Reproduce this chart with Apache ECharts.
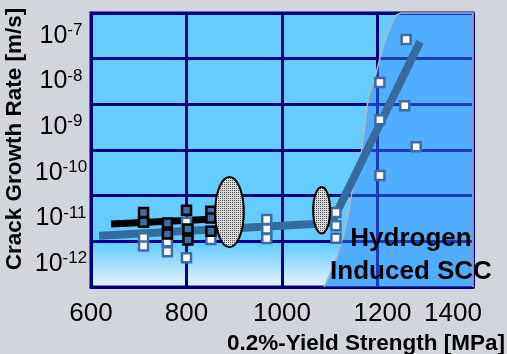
<!DOCTYPE html>
<html><head><meta charset="utf-8">
<script src="https://cdn.jsdelivr.net/npm/echarts@6/dist/echarts.min.js"></script>
<style>html,body{margin:0;padding:0;background:#d3d5dc;}#c{width:507px;height:354px;}</style>
</head><body><div id="c"></div>
<script>
// ---- data (x: 0.2% yield strength MPa, y: log10 of crack growth rate m/s) ----
const xTicks = [600, 800, 1000, 1200, 1400];
const yTickExps = [-12, -11, -10, -9, -8, -7];
const darkX = [710, 710, 760, 760, 800, 803, 803, 851, 851, 851];
const darkY = [-10.87, -11.08, -11.10, -11.34, -10.82, -11.23, -11.47, -10.84, -10.99, -11.28];
const whiteX = [710, 710, 760, 760, 800, 803, 800, 851, 968, 968, 968, 1113, 1113, 1113, 1260, 1205, 1257, 1205, 1281, 1205];
const whiteY = [-11.42, -11.60, -11.51, -11.73, -11.08, -11.40, -11.86, -11.46, -11.02, -11.23, -11.44, -10.87, -11.16, -11.43, -7.08, -8.02, -8.53, -8.84, -9.43, -10.06];
const blackLineX = [642, 860];
const blackLineY = [-11.12, -11.01];
const blueLineX = [617, 1104, 1289];
const blueLineY = [-11.38, -11.10, -7.13];
// ellipses: centre x, centre y, half width (MPa), half height (decades)
const ellipseCX = [890, 1083];
const ellipseCY = [-10.86, -10.82];
const ellipseRX = [30, 17.8];
const ellipseRY = [0.77, 0.51];
// boundary of the hydrogen-induced SCC region
const regionX = [1088, 1104, 1115, 1128, 1139, 1146, 1156, 1167, 1174, 1181, 1195, 1205, 1216, 1233, 1240, 1249];
const regionY = [-12.5, -12.13, -11.84, -11.40, -10.89, -10.45, -9.94, -9.50, -8.91, -8.34, -7.90, -7.49, -7.09, -6.65, -6.54, -6.5];
const xMin = 600, xMax = 1400, yMin = -12.5, yMax = -6.5;
const yName = 'Crack Growth Rate [m/s]';
const xName = '0.2%-Yield Strength [MPa]';

const FONT = "'Liberation Sans', Arial, sans-serif";
const pat = document.createElement('canvas');
pat.width = 4; pat.height = 4;
(function(){const g = pat.getContext('2d'); g.fillStyle = '#d8d8d8'; g.fillRect(0,0,4,4);
 g.fillStyle = '#555'; g.fillRect(0,0,1,1); g.fillRect(2,2,1,1); g.fillRect(2,0,1,1); g.fillRect(0,2,1,1);})();

const chart = echarts.init(document.getElementById('c'), null, {renderer: 'canvas'});
const zip = (a, b) => a.map((v, i) => [v, b[i]]);

function regionPoints(api) {
  const pts = regionX.map((x, i) => api.coord([x, regionY[i]]));
  pts.push(api.coord([xMax, yMax]));
  pts.push(api.coord([xMax, yMin]));
  return pts;
}

const option = {
  backgroundColor: '#d3d5dc',
  animation: false,
  grid: {left: 91, top: 13, right: 34, bottom: 67, containLabel: false, outerBoundsMode: 'none',
    show: true, borderColor: '#000080', borderWidth: 3,
    backgroundColor: new echarts.graphic.LinearGradient(0, 0, 0, 1, [
      {offset: 0, color: '#66ccff'}, {offset: 0.84, color: '#66ccff'}, {offset: 1, color: '#eaf6ff'}])},
  xAxis: {
    type: 'value', min: xMin, max: xMax, interval: 200, z: 1.5,
    axisLine: {show: true, lineStyle: {color: '#000080', width: 3}},
    axisTick: {show: false},
    splitLine: {show: true, lineStyle: {color: '#000080', width: 3}},
    axisLabel: {margin: 14, fontFamily: FONT, fontSize: 26, color: '#000',
      formatter: v => v === 1400 ? '{r|1400}' : (v === 1200 ? '{m|1200}' : String(v)),
      rich: {r: {fontFamily: FONT, fontSize: 26, padding: [0, 40, 0, 0]}, m: {fontFamily: FONT, fontSize: 26, padding: [0, 0, 0, 10]}}},
    name: xName, nameLocation: 'end', nameGap: 32,
    nameTextStyle: {fontFamily: FONT, fontWeight: 'bold', fontSize: 22.5, color: '#000', align: 'right', verticalAlign: 'top', padding: [45, 0, 0, 0]}
  },
  yAxis: {
    type: 'value', min: yMin, max: yMax, interval: 1, z: 1.5,
    axisLine: {show: true, lineStyle: {color: '#000080', width: 3}},
    axisTick: {show: false},
    splitLine: {show: true, lineStyle: {color: '#000080', width: 3}},
    axisLabel: {customValues: yTickExps, margin: 30, align: 'center', color: '#000',
      formatter: v => '{b|10}{s|' + Math.round(v) + '}',
      rich: {b: {fontFamily: FONT, fontSize: 25, lineHeight: 28, verticalAlign: 'middle'},
             s: {fontFamily: FONT, fontSize: 17, lineHeight: 17, verticalAlign: 'top'}}}
  },
  series: [
    {type: 'custom', z: 1, silent: true, data: [[xMin, yMin]], clip: true,
      renderItem: (p, api) => ({type: 'polygon', shape: {points: regionPoints(api)}, style: {fill: '#66ccff'}})},
    {type: 'custom', z: 1.8, silent: true, data: [[xMin, yMin]], clip: false,
      renderItem: (p, api) => {
        const pts = regionPoints(api);
        return {type: 'group', children: [
          {type: 'polygon', shape: {points: pts}, style: {fill: 'rgba(55,135,255,0.45)'}},
          {type: 'polyline', shape: {points: pts}, style: {fill: null, stroke: '#b4b8be', lineWidth: 1.5}}
        ]};
      }},
    {type: 'line', z: 2, data: zip(blueLineX, blueLineY), symbol: 'none', lineStyle: {color: '#356b9f', width: 8}},
    {type: 'line', z: 2.1, data: zip(blackLineX, blackLineY), symbol: 'none', lineStyle: {color: '#000', width: 7}},
    {type: 'scatter', z: 3, data: zip(whiteX, whiteY), symbol: 'rect', symbolSize: 9,
      itemStyle: {color: '#fff', borderColor: '#3a6ea5', borderWidth: 2.5, opacity: 1}},
    {type: 'scatter', z: 3.1, data: zip(darkX, darkY), symbol: 'rect', symbolSize: 9,
      itemStyle: {color: '#3a6ea5', borderColor: '#000', borderWidth: 2.5, opacity: 1}},
    {type: 'custom', z: 4, silent: true,
      data: ellipseCX.map((x, i) => [x, ellipseCY[i], ellipseRX[i], ellipseRY[i]]),
      renderItem: (p, api) => {
        const c = api.coord([api.value(0), api.value(1)]);
        const s = api.size([api.value(2), api.value(3)]);
        return {type: 'ellipse', shape: {cx: c[0], cy: c[1], rx: s[0], ry: s[1]},
          style: {fill: {image: pat, repeat: 'repeat'}, stroke: '#000', lineWidth: 2}};
      }}
  ],
  graphic: [
    {type: 'text', z: 100, x: 15, y: 139, rotation: Math.PI / 2,
      style: {text: yName, font: 'bold 22.5px ' + FONT, fill: '#000', textAlign: 'center', textVerticalAlign: 'middle'}},
    {type: 'text', z: 100, x: 411, y: 255,
      style: {text: 'Hydrogen\nInduced SCC', font: 'bold 26px ' + FONT, fill: '#000', textAlign: 'center', textVerticalAlign: 'middle', lineHeight: 33}}
  ]
};
chart.setOption(option);
</script>
</body></html>
